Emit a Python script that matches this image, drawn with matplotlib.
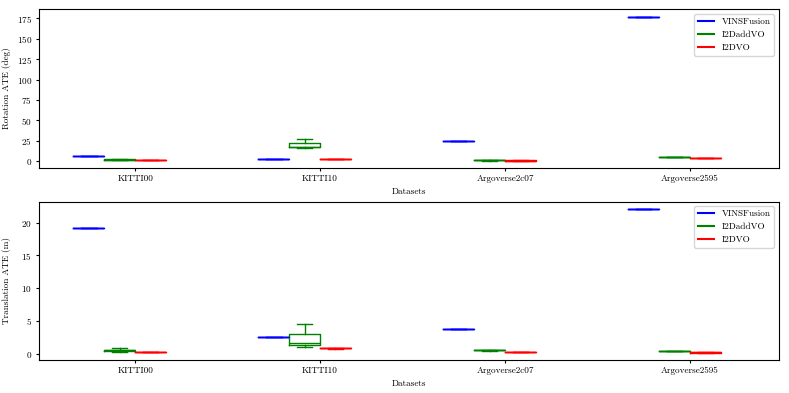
import matplotlib
matplotlib.use("Agg")
import matplotlib.pyplot as plt
from matplotlib.lines import Line2D
import numpy as np

plt.rcParams["font.family"] = "serif"
plt.rcParams["font.serif"] = ["cmr10"]
plt.rcParams["axes.formatter.use_mathtext"] = True
plt.rcParams["font.size"] = 6.6

datasets = ["KITTI00", "KITTI10", "Argoverse2c07", "Argoverse2595"]
methods = ["VINSFusion", "I2DaddVO", "I2DVO"]
colors = ["blue", "green", "red"]

# rotation ATE (deg), per method, per dataset (runs)
rot_vins = [[6.1], [2.1], [24.1], [177.2]]
rot_add = [[1.0, 1.3, 1.5, 1.8, 2.0], [16.0, 17.1, 17.5, 22.4, 27.0],
           [0.5, 0.6, 0.6, 0.7, 0.8], [4.5, 4.7, 4.9, 5.0, 5.1]]
rot_i2d = [[0.6, 0.7, 0.8, 0.9, 1.0], [1.8, 2.0, 2.2, 2.4, 2.6],
           [0.4, 0.5, 0.5, 0.6, 0.6], [3.0, 3.4, 3.7, 3.9, 4.1]]

# translation ATE (m)
tra_vins = [[19.2], [2.6], [3.85], [22.1]]
tra_add = [[0.3, 0.35, 0.5, 0.65, 0.85], [1.1, 1.3, 1.65, 3.0, 4.5],
           [0.45, 0.5, 0.5, 0.55, 0.55], [0.35, 0.4, 0.4, 0.45, 0.45]]
tra_i2d = [[0.2, 0.22, 0.25, 0.27, 0.3], [0.8, 0.82, 0.85, 0.88, 0.9],
           [0.2, 0.22, 0.25, 0.27, 0.3], [0.15, 0.18, 0.2, 0.22, 0.25]]

fig = plt.figure(figsize=(7.89, 3.93), dpi=100)
ax1 = fig.add_axes([0.0494, 0.573, 0.9376, 0.403])
ax2 = fig.add_axes([0.0494, 0.084, 0.9376, 0.403])

centers = np.arange(len(datasets)) * 3
offsets = [-0.75, -0.25, 0.25]


def draw(ax, series, ylabel):
    for vals, off, c in zip(series, offsets, colors):
        ax.boxplot(vals, positions=centers + off, widths=0.5, showfliers=False,
                   manage_ticks=False,
                   boxprops=dict(color=c, lw=1), whiskerprops=dict(color=c, lw=1),
                   capprops=dict(color=c, lw=1), medianprops=dict(color=c, lw=1))
    ax.set_xticks(centers)
    ax.set_xticklabels(datasets)
    ax.set_xlim(-1.56, 10.44)
    ax.tick_params(length=2.5, pad=2.5)
    ax.set_xlabel("Datasets", labelpad=3)
    ax.set_ylabel(ylabel)
    ax.yaxis.set_label_coords(-0.038, 0.5)
    handles = [Line2D([0], [0], color=c, lw=1.5) for c in colors]
    ax.legend(handles, methods, loc="upper right",
              handlelength=1.8, labelspacing=0.5, borderaxespad=0.5)


draw(ax1, [rot_vins, rot_add, rot_i2d], "Rotation ATE (deg)")
draw(ax2, [tra_vins, tra_add, tra_i2d], "Translation ATE (m)")
ax1.margins(y=0.05)
ax1.set_yticks(np.arange(0, 176, 25))

fig.savefig("out.png", dpi=100)
